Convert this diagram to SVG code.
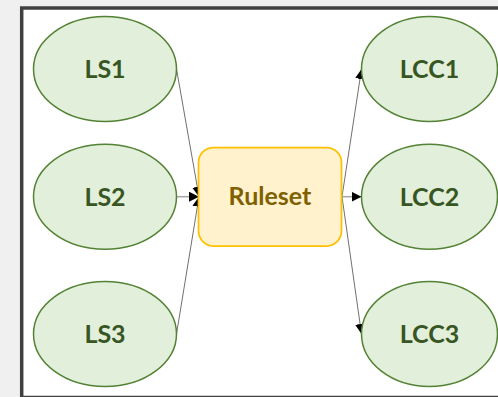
<svg xmlns="http://www.w3.org/2000/svg" width="498" height="397" viewBox="0 0 498 397">
  <defs>
    <marker id="arrow" markerUnits="userSpaceOnUse" markerWidth="11" markerHeight="10" refX="10" refY="5" orient="auto">
      <path d="M0,0 L10,5 L0,10 Z" fill="#000"/>
    </marker>
  </defs>
  <style>
    .source ellipse, .target ellipse { fill: #e2efda; stroke: #548235; stroke-width: 1.5; }
    .source text, .target text { fill: #375623; }
    text { font-family: Lato, "Open Sans", sans-serif; font-weight: bold; font-size: 25px; text-anchor: middle; }
    .rules rect { fill: #fff2cc; stroke: #ffc000; stroke-width: 1.75; }
    .rules text { fill: #7f6000; }
    .link { fill: none; stroke: #404040; stroke-width: 0.75; marker-end: url(#arrow); }
    .link.straight { stroke: #a6a6a6; stroke-width: 1.5; }
  </style>

  <!-- page background and frame -->
  <rect x="0" y="0" width="498" height="397" fill="#f0f0f0"/>
  <rect x="21.7" y="8" width="490" height="389.5" fill="#ffffff" stroke="#404040" stroke-width="3.5"/>

  <!-- connectors -->
  <g id="connectors">
    <line class="link" x1="176.5" y1="69" x2="199" y2="196.7"/>
    <line class="link straight" x1="176.5" y1="196.7" x2="199" y2="196.7"/>
    <line class="link" x1="176.5" y1="334" x2="199" y2="196.7"/>
    <line class="link" x1="342" y1="196.7" x2="361.5" y2="69"/>
    <line class="link straight" x1="342" y1="196.7" x2="361.5" y2="196.7"/>
    <line class="link" x1="342" y1="196.7" x2="361.5" y2="334"/>
  </g>

  <!-- sources -->
  <g id="ls1" class="source">
    <ellipse cx="105" cy="69" rx="71.5" ry="52.5"/>
    <text x="105" y="78">LS1</text>
  </g>
  <g id="ls2" class="source">
    <ellipse cx="105" cy="196.7" rx="71.5" ry="52.5"/>
    <text x="105" y="205.5">LS2</text>
  </g>
  <g id="ls3" class="source">
    <ellipse cx="105" cy="334" rx="71.5" ry="52.5"/>
    <text x="105" y="343">LS3</text>
  </g>

  <!-- rule set -->
  <g id="ruleset" class="rules">
    <rect x="198.5" y="147.5" width="143" height="98.5" rx="15" ry="15"/>
    <text x="270" y="205">Ruleset</text>
  </g>

  <!-- targets -->
  <g id="lcc1" class="target">
    <ellipse cx="429.5" cy="69" rx="68" ry="52.5"/>
    <text x="429.5" y="78">LCC1</text>
  </g>
  <g id="lcc2" class="target">
    <ellipse cx="429.5" cy="196.7" rx="68" ry="52.5"/>
    <text x="429.5" y="205.5">LCC2</text>
  </g>
  <g id="lcc3" class="target">
    <ellipse cx="429.5" cy="334" rx="68" ry="52.5"/>
    <text x="429.5" y="343">LCC3</text>
  </g>
</svg>
